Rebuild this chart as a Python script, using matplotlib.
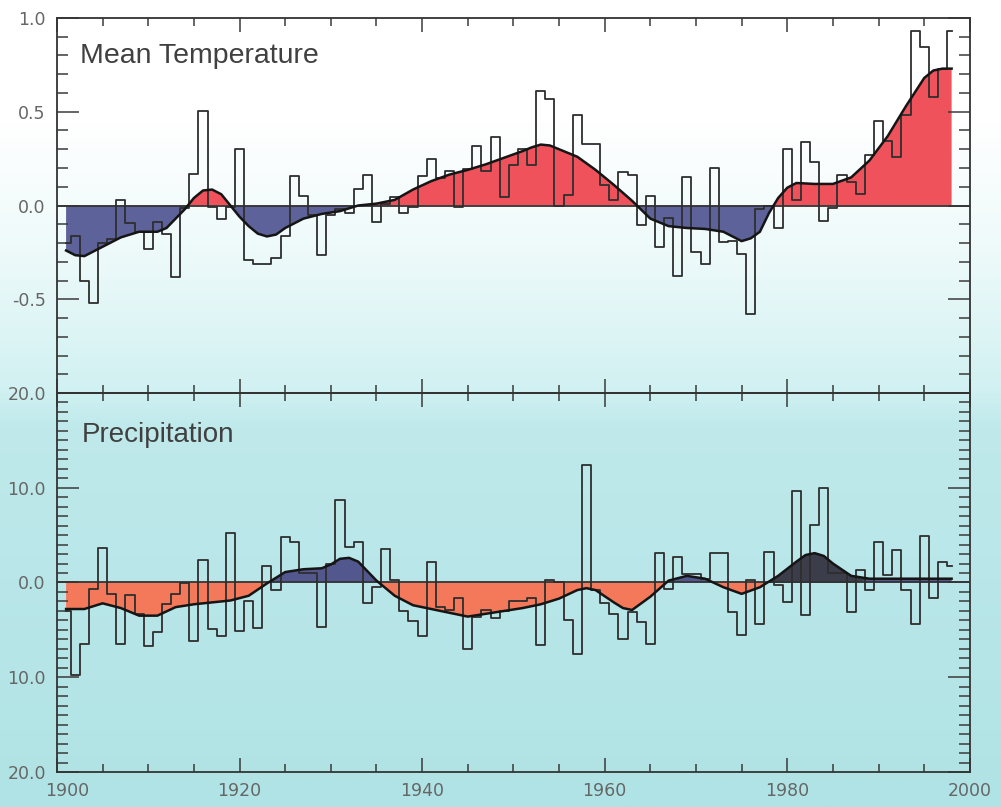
import numpy as np
import matplotlib.pyplot as plt
from matplotlib.ticker import MultipleLocator
from matplotlib.colors import LinearSegmentedColormap
from matplotlib.transforms import ScaledTranslation

#_________________________________________________________________________________________________________________________________
# annual anomalies, 1901-1998

years = np.arange(1901, 1999)

temp_anom = [-0.20, -0.16, -0.40, -0.52, -0.20, -0.18, 0.03, -0.095, -0.14, -0.23,
             -0.086, -0.15, -0.38, -0.015, 0.17, 0.505, -0.01, -0.07, -0.01, 0.30,
             -0.29, -0.31, -0.31, -0.28, -0.16, 0.156, 0.052, -0.05, -0.265, -0.05,
             -0.02, -0.04, 0.09, 0.163, -0.09, 0.01, 0.045, -0.04, -0.01, 0.16,
             0.247, 0.147, 0.183, -0.01, 0.197, 0.32, 0.183, 0.367, 0.045, 0.215,
             0.30, 0.215, 0.61, 0.57, -0.005, 0.057, 0.48, 0.326, 0.326, 0.108,
             0.027, 0.18, 0.165, -0.104, 0.05, -0.22, -0.068, -0.376, 0.152, -0.25,
             -0.31, 0.20, -0.194, -0.19, -0.26, -0.58, -0.02, 0.0, -0.122, 0.30,
             0.027, 0.34, 0.233, -0.08, -0.014, 0.165, 0.125, 0.063, 0.27, 0.45,
             0.344, 0.26, 0.48, 0.93, 0.846, 0.58, 0.726, 0.93]

precip_anom = [-3.0, -9.8, -6.5, -0.64, 3.67, -1.2, -6.5, -1.27, -3.3, -6.75,
               -5.2, -2.3, -1.17, -0.1, -6.2, 2.37, -4.9, -5.7, 5.27, -5.1,
               -1.94, -4.8, 1.73, -0.74, 4.84, 4.3, 1.0, 1.0, -4.7, 2.0,
               8.66, 3.7, 4.3, -2.16, -0.5, 3.5, 0.3, -3.0, -4.06, -5.6,
               2.2, -2.6, -2.9, -1.6, -7.0, -3.6, -2.86, -3.8, -3.0, -1.94,
               -1.94, -1.6, -6.6, 0.3, 0.0, -4.0, -7.5, 12.4, -0.8, -2.2,
               -3.3, -6.0, -3.1, -4.2, -6.5, 3.07, -0.64, 2.7, 0.85, 0.9,
               0.4, 3.07, 3.07, -3.1, -5.5, 0.3, -4.35, 3.18, -0.28, -2.1,
               9.7, -3.46, 6.1, 10.0, 1.0, 1.0, -3.1, 1.3, -0.8, 4.24,
               0.78, 3.4, -0.8, -4.35, 4.9, -1.6, 2.2, 1.7]

# smoothed curves
temp_smooth_years = [1901, 1902, 1903, 1905, 1907, 1909, 1911, 1912, 1913, 1914,
                     1915, 1916, 1917, 1918, 1919, 1920, 1921, 1922, 1923, 1924,
                     1925, 1927, 1929, 1931, 1933, 1935, 1937, 1939, 1941, 1943,
                     1945, 1947, 1949, 1951, 1952, 1953, 1954, 1955, 1957, 1959,
                     1961, 1963, 1965, 1967, 1969, 1971, 1973, 1974, 1975, 1976,
                     1977, 1978, 1979, 1980, 1981, 1983, 1985, 1987, 1989, 1991,
                     1993, 1995, 1996, 1997, 1998]
temp_smooth = [-0.24, -0.265, -0.27, -0.22, -0.17, -0.14, -0.14, -0.12, -0.07, -0.02,
               0.04, 0.08, 0.085, 0.06, 0.0, -0.06, -0.11, -0.15, -0.165, -0.155,
               -0.12, -0.07, -0.045, -0.03, 0.0, 0.01, 0.03, 0.085, 0.13, 0.165,
               0.19, 0.22, 0.255, 0.29, 0.31, 0.325, 0.32, 0.30, 0.26, 0.19,
               0.11, 0.025, -0.07, -0.11, -0.12, -0.125, -0.14, -0.165, -0.19, -0.175,
               -0.14, -0.04, 0.04, 0.095, 0.12, 0.115, 0.115, 0.15, 0.24, 0.37,
               0.53, 0.68, 0.72, 0.73, 0.73]

precip_smooth_years = [1901, 1903, 1905, 1907, 1909, 1911, 1913, 1915, 1917, 1919,
                       1921, 1923, 1925, 1927, 1929, 1930, 1931, 1932, 1933, 1935,
                       1937, 1939, 1941, 1943, 1945, 1947, 1949, 1951, 1953, 1955,
                       1957, 1958, 1959, 1961, 1962, 1963, 1965, 1967, 1969, 1971,
                       1973, 1975, 1977, 1979, 1981, 1982, 1983, 1984, 1985, 1987,
                       1989, 1991, 1993, 1995, 1997, 1998]
precip_smooth = [-2.8, -2.8, -2.2, -2.7, -3.5, -3.5, -2.6, -2.3, -2.1, -1.9,
                 -1.4, -0.1, 1.1, 1.4, 1.5, 1.9, 2.5, 2.6, 2.2, 0.2,
                 -1.4, -2.4, -2.8, -3.2, -3.6, -3.3, -3.0, -2.7, -2.3, -1.7,
                 -0.8, -0.6, -0.8, -2.1, -2.7, -2.9, -1.5, 0.2, 0.7, 0.4,
                 -0.5, -1.2, -0.5, 0.7, 2.2, 2.9, 3.1, 2.8, 2.0, 0.7,
                 0.4, 0.4, 0.4, 0.4, 0.4, 0.4]

temp_ticks = [-1.0, -0.5, 0.0, 0.5, 1.0]
temp_ticklabels = ['', '-0.5', '0.0', '0.5', '1.0']
precip_ticks = [-20, -10, 0, 10, 20]
precip_ticklabels = ['20.0', '10.0', '0.0', '10.0', '20.0']
year_ticks = [1900, 1920, 1940, 1960, 1980, 2000]

#_________________________________________________________________________________________________________________________________


def StyleAxis(ax, ylim, yticks, yticklabels, minor_y):
    ax.set_facecolor('none')
    ax.set_xlim(1900, 2000)
    ax.set_ylim(*ylim)
    ax.set_xticks(year_ticks)
    ax.xaxis.set_minor_locator(MultipleLocator(5))
    ax.set_yticks(yticks)
    ax.set_yticklabels(yticklabels)
    ax.yaxis.set_minor_locator(MultipleLocator(minor_y))
    ax.tick_params(which='both', direction='in', top=True, right=True,
                   color='#3a3a3a', width=1.1, labelcolor='#666666', labelsize=12.5)
    ax.tick_params(axis='y', which='major', length=16, pad=8)
    ax.tick_params(axis='y', which='minor', length=8)
    ax.tick_params(axis='x', which='major', length=10, pad=7)
    ax.tick_params(axis='x', which='minor', length=6)
    for s in ax.spines.values():
        s.set_color('#333333')
        s.set_linewidth(1.3)
    ax.axhline(0, color='#333333', lw=1.3, zorder=2)


def PlotPanel(ax, vals, s_years, s_vals, pos_color, neg_color):
    s_years = np.array(s_years)
    s_vals = np.array(s_vals)
    ax.fill_between(s_years, s_vals, 0, where=s_vals >= 0, interpolate=True,
                    color=pos_color, lw=0, zorder=1)
    ax.fill_between(s_years, s_vals, 0, where=s_vals <= 0, interpolate=True,
                    color=neg_color, lw=0, zorder=1)
    ax.step(years, vals, where='mid', color='#2e2e2e', lw=1.3, zorder=3)
    ax.plot(s_years, s_vals, color='#151515', lw=1.8, zorder=4)


#_________________________________________________________________________________________________________________________________


def main():
    plt.rcParams['font.family'] = 'DejaVu Sans'

    fig = plt.figure(figsize=(10.01, 8.07), dpi=100)

    # pale white-to-aqua backdrop
    bg = fig.add_axes([0, 0, 1, 1], zorder=-10)
    cmap = LinearSegmentedColormap.from_list(
        'bg', [(0.0, '#ffffff'), (0.15, '#ffffff'), (0.31, '#eefafa'),
               (0.48, '#d2f1f2'), (0.53, '#bfe9eb'), (1.0, '#b0e3e5')])
    grad = np.linspace(0, 1, 400).reshape(-1, 1)
    bg.imshow(grad, aspect='auto', cmap=cmap, extent=[0, 1, 0, 1])
    bg.axis('off')

    ax1 = fig.add_axes([0.0569, 0.513, 0.912, 0.4647])
    ax2 = fig.add_axes([0.0569, 0.0434, 0.912, 0.4696])

    # temperature
    PlotPanel(ax1, temp_anom, temp_smooth_years, temp_smooth, '#f0525c', '#5d629a')
    StyleAxis(ax1, (-1.0, 1.0), temp_ticks, temp_ticklabels, 0.1)
    ax1.tick_params(axis='x', labelbottom=False)
    ax1.text(0.025, 0.88, 'Mean Temperature', transform=ax1.transAxes,
             fontsize=20.5, family='Liberation Sans', color='#404040', va='baseline')

    # precipitation, the 1980s wet spell is shaded dark
    PlotPanel(ax2, precip_anom, precip_smooth_years, precip_smooth, '#52578e', '#f4785a')
    sy = np.array(precip_smooth_years)
    sv = np.array(precip_smooth)
    dark = (sy >= 1977) & (sy <= 1987) & (sv >= 0)
    ax2.fill_between(sy, sv, 0, where=dark, interpolate=True,
                     color='#3b3d4a', lw=0, zorder=1.5)
    StyleAxis(ax2, (-20, 20), precip_ticks, precip_ticklabels, 1)
    ax2.text(0.027, 0.871, 'Precipitation', transform=ax2.transAxes,
             fontsize=20, family='Liberation Sans', color='#404040', va='baseline')

    first = ax2.get_xticklabels()[0]
    first.set_transform(first.get_transform() + ScaledTranslation(0.1, 0, fig.dpi_scale_trans))

    fig.savefig('out.png', dpi=100)
    plt.close(fig)


if __name__ == '__main__':

    main()
